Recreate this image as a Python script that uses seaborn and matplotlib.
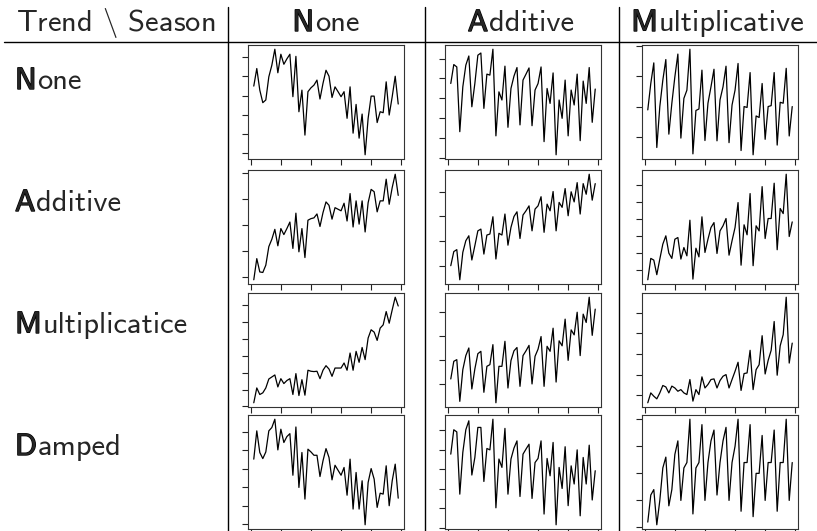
import matplotlib
matplotlib.use("Agg")
import matplotlib.pyplot as plt
import matplotlib.patheffects as pe
from matplotlib.lines import Line2D
from matplotlib.ticker import MultipleLocator
import numpy as np
import pandas as pd
import seaborn as sns

# ---------------------------------------------------------------
# Quarterly series for each trend / seasonal component combination
# ---------------------------------------------------------------
quarters = list(range(1, 50))

trend_labels = ["None", "Additive", "Multiplicatice", "Damped"]
season_labels = ["None", "Additive", "Multiplicative"]
header_corner = "Trend $\\backslash$ Season"

none_none = [34.9, 44.0, 32.8, 26.3, 27.7, 39.7, 45.7, 54.0, 41.8, 51.4, 46.2, 49.0, 51.4,
             29.4, 50.3, 21.6, 32.8, 9.5, 32.0, 34.0, 35.4, 38.0, 28.2, 36.3, 43.1, 40.0,
             29.0, 34.5, 32.0, 29.4, 32.0, 18.2, 34.5, 10.5, 25.4, 7.9, 20.4, -0.7, 18.2,
             29.7, 29.7, 16.0, 21.6, 21.1, 37.1, 19.9, 29.4, 40.0, 25.6]
none_add = [37.5, 47.0, 45.8, 13.3, 35.8, 46.7, 51.3, 25.8, 37.5, 51.7, 52.8, 25.0, 42.2,
            41.7, 54.7, 11.2, 33.3, 29.2, 46.2, 15.5, 35.0, 41.2, 45.5, 16.7, 39.2, 42.2,
            45.3, 16.3, 34.2, 37.5, 45.8, 8.3, 35.0, 27.5, 42.8, 1.7, 29.2, 20.0, 39.2,
            11.2, 34.2, 26.7, 42.2, 8.8, 38.7, 27.5, 45.5, 18.0, 34.7]
none_mult = [8.9, 17.6, 24.4, -3.5, 10.0, 18.7, 25.5, 0.9, 11.1, 19.8, 27.3, -0.4, 12.7,
             15.4, 28.9, -5.6, 8.7, 9.2, 22.0, -1.2, 11.1, 16.5, 22.3, -1.3, 12.2, 16.5,
             23.3, -1.9, 10.5, 15.4, 24.2, -4.5, 10.0, 9.7, 21.2, -5.9, 6.9, 6.4, 17.6,
             -0.8, 10.0, 10.3, 21.2, -2.7, 11.4, 11.1, 22.6, 0.3, 10.0]

add_none = [-1.0, 7.1, 2.0, 1.8, 4.6, 11.7, 14.5, 18.3, 12.0, 18.6, 16.3, 18.6, 21.1,
            11.0, 24.5, 9.7, 18.6, 7.5, 21.8, 22.4, 22.7, 24.2, 19.4, 24.7, 28.8, 27.5,
            22.2, 26.6, 26.0, 25.4, 28.3, 21.5, 32.0, 19.2, 29.2, 20.3, 29.2, 17.3, 28.5,
            33.6, 32.7, 25.0, 29.2, 29.2, 37.5, 27.9, 34.3, 39.4, 31.3]
add_add = [0.0, 5.7, 6.5, -5.7, 5.4, 10.1, 12.1, 2.3, 8.1, 14.1, 14.8, 4.7, 12.4,
           12.8, 19.8, 2.7, 13.1, 12.4, 20.9, 8.3, 15.5, 19.9, 21.8, 11.0, 20.5, 22.2,
           24.2, 14.1, 22.9, 24.2, 27.9, 13.5, 24.9, 22.2, 30.0, 14.1, 25.6, 23.6, 31.2,
           20.2, 29.9, 25.8, 33.6, 20.9, 33.2, 28.9, 37.0, 26.5, 33.2]
add_mult = [-5.9, 6.7, 5.7, -2.9, 6.3, 15.1, 20.0, 9.8, 6.7, 18.0, 19.0, 6.3, 13.1,
            8.2, 29.2, -5.5, 12.7, 7.6, 31.2, 10.2, 18.0, 24.9, 27.8, 9.6, 22.9, 25.9,
            30.2, 8.6, 17.1, 24.9, 39.6, 2.7, 26.5, 20.6, 44.9, 2.4, 25.9, 22.9, 49.0,
            18.4, 30.2, 30.2, 51.0, 11.8, 36.1, 33.1, 56.3, 19.6, 28.2]

mult_none = [2.2, 11.0, 7.1, 8.1, 11.0, 16.3, 17.5, 18.7, 11.6, 16.5, 13.6, 15.4, 16.5,
             7.1, 19.5, 6.5, 15.9, 6.7, 21.5, 20.9, 20.7, 20.9, 16.5, 21.5, 24.2, 22.2,
             17.9, 22.8, 22.8, 22.8, 25.8, 21.5, 31.7, 21.5, 32.7, 26.2, 35.0, 27.8, 40.6,
             45.5, 44.1, 39.2, 46.5, 48.4, 56.3, 49.4, 57.3, 64.8, 59.6]
mult_add = [2.1, 9.5, 10.2, -7.3, 6.0, 11.9, 15.1, -2.1, 6.3, 12.7, 13.7, -3.5, 7.4,
            8.1, 16.5, -7.9, 7.4, 7.4, 17.9, -1.7, 9.8, 13.9, 15.3, -1.0, 11.9, 13.9,
            16.2, 0.0, 11.6, 14.6, 19.9, -1.0, 15.8, 13.7, 23.4, 0.8, 18.1, 16.0, 27.2,
            9.9, 22.7, 20.6, 30.1, 11.9, 29.3, 25.8, 36.4, 20.4, 31.4]
mult_mult = [-3.7, 1.1, -0.5, -1.8, 1.1, 4.7, 4.0, 1.1, 4.4, 3.5, 1.9, 2.7, 1.1,
             0.3, 7.6, -2.9, 2.7, 0.3, 8.9, 3.5, 5.2, 7.6, 7.9, 3.5, 7.1, 9.2,
             10.0, 3.5, 7.6, 11.6, 16.0, 2.3, 10.5, 10.8, 21.8, 2.7, 12.4, 14.8, 28.9,
             10.3, 16.9, 21.8, 35.8, 9.7, 24.0, 29.4, 47.6, 15.6, 25.3]

damp_none = [35.1, 50.4, 38.7, 35.4, 39.0, 50.4, 52.2, 56.7, 40.1, 51.3, 44.1, 47.3, 48.9,
             26.4, 52.5, 19.8, 38.7, 13.5, 40.5, 39.0, 37.2, 37.2, 25.7, 34.2, 40.8, 36.0,
             23.9, 31.8, 29.1, 26.4, 30.6, 15.6, 35.1, 8.1, 27.9, 8.1, 23.4, -0.4, 22.5,
             30.0, 24.3, 9.0, 16.7, 16.2, 31.5, 9.9, 23.4, 32.4, 14.0]
damp_add = [37.7, 50.2, 49.1, 17.2, 38.6, 50.2, 54.8, 27.0, 36.0, 51.4, 51.4, 23.7, 40.6,
            39.9, 55.6, 10.2, 35.2, 30.9, 50.9, 17.2, 35.2, 40.8, 44.5, 16.0, 37.7, 40.3,
            42.8, 15.0, 33.4, 35.5, 44.5, 7.0, 35.5, 26.6, 43.7, 1.5, 30.9, 20.1, 41.5,
            11.3, 31.7, 22.4, 39.9, 6.1, 36.0, 22.4, 42.3, 14.2, 29.2]
damp_mult = [2.0, 12.0, 14.0, 1.0, 10.0, 22.0, 26.0, 8.0, 14.0, 27.0, 32.0, 10.0, 22.0,
             24.0, 40.0, 5.0, 22.0, 24.0, 38.0, 10.0, 24.0, 32.0, 36.0, 12.0, 24.0, 32.0,
             37.0, 10.0, 24.0, 30.0, 40.0, 6.0, 24.0, 24.0, 38.0, 4.0, 20.0, 20.0, 34.0,
             10.0, 24.0, 24.0, 36.0, 6.0, 24.0, 24.0, 40.0, 10.0, 24.0]

grid = [[none_none, none_add, none_mult],
        [add_none, add_add, add_mult],
        [mult_none, mult_add, mult_mult],
        [damp_none, damp_add, damp_mult]]

# ---------------------------------------------------------------
# Figure setup
# ---------------------------------------------------------------
sns.set_style("white")
plt.rcParams["font.family"] = ["cmss10", "DejaVu Sans"]
plt.rcParams["mathtext.fontset"] = "cm"
plt.rcParams["axes.unicode_minus"] = False

W, H = 817, 531
fig = plt.figure(figsize=(W / 100, H / 100), dpi=100)
fig.patch.set_facecolor("white")

col_left = [248, 445, 642]
row_top = [45, 170, 293, 415]
box_w, box_h = 156, 114

FS = 22


def fx(px):
    return px / W


def fy(py):
    return 1 - py / H


for r, row in enumerate(grid):
    for c, series in enumerate(row):
        ax = fig.add_axes([fx(col_left[c]), fy(row_top[r] + box_h),
                           box_w / W, box_h / H])
        df = pd.DataFrame({"t": quarters, "y": series})
        sns.lineplot(data=df, x="t", y="y", ax=ax, color="black",
                     linewidth=0.9)
        span = quarters[-1] - quarters[0]
        ax.set_xlim(quarters[0] - 0.04 * span, quarters[-1] + 0.04 * span)
        lo, hi = min(series), max(series)
        pad = 0.04 * (hi - lo)
        ax.set_ylim(lo - pad, hi + pad)
        ax.xaxis.set_major_locator(MultipleLocator(10))
        ax.yaxis.set_major_locator(MultipleLocator(10))
        ax.tick_params(direction="out", length=4.5, width=0.8, color="#222222",
                       labelbottom=False, labelleft=False, bottom=True, left=True)
        ax.set_xlabel("")
        ax.set_ylabel("")
        for s in ax.spines.values():
            s.set_color("#333333")
            s.set_linewidth(0.8)

# Table rules
fig.add_artist(Line2D([fx(4), fx(817)], [fy(42), fy(42)], color="black", lw=1.0))
for xv in [228, 425, 619]:
    fig.add_artist(Line2D([fx(xv), fx(xv)], [fy(7), fy(531)], color="black", lw=1.0))

renderer = fig.canvas.get_renderer()
bold = [pe.withStroke(linewidth=1.0, foreground="black")]


def emph_label(x, y, word, ha):
    # heavy initial letter followed by the rest of the word in regular weight
    head = fig.text(0, fy(y), word[0], ha="left", va="baseline",
                    fontsize=FS, path_effects=bold)
    tail = fig.text(0, fy(y), word[1:], ha="left", va="baseline", fontsize=FS)
    w_head = head.get_window_extent(renderer).width + 1
    w_tail = tail.get_window_extent(renderer).width
    left = x - (w_head + w_tail) / 2 if ha == "center" else x
    head.set_x(fx(left))
    tail.set_x(fx(left + w_head))


fig.text(fx(116), fy(31), header_corner, ha="center", va="baseline", fontsize=FS)
for x, lab in zip([326, 521, 718], season_labels):
    emph_label(x, 31, lab, "center")
for y, lab in zip([89, 211, 333, 455], trend_labels):
    emph_label(15, y, lab, "left")

fig.savefig("out.png", dpi=100, facecolor="white")
